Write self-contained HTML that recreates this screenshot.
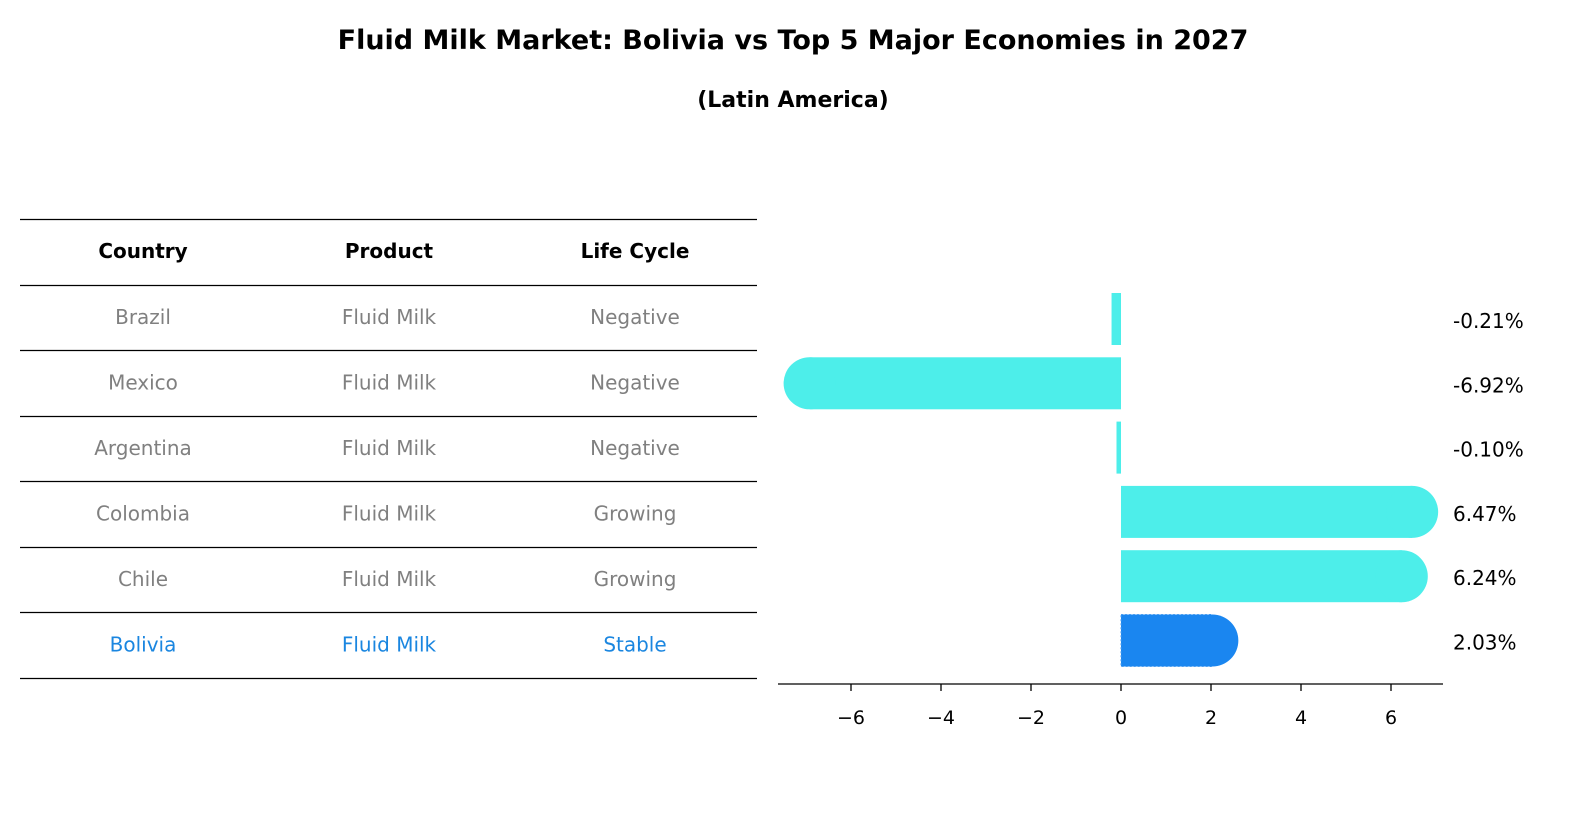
<!DOCTYPE html>
<html><head><meta charset="utf-8"><style>
html,body{margin:0;padding:0;background:#fff;overflow:hidden;width:1596px;height:823px;font-family:"Liberation Sans","DejaVu Sans",sans-serif;}
svg{display:block;}
</style></head><body>
<svg width="1596" height="823" xmlns="http://www.w3.org/2000/svg" font-family="DejaVu Sans, Liberation Sans, sans-serif">
<text x="793" y="49" text-anchor="middle" font-size="27" font-weight="bold">Fluid Milk Market: Bolivia vs Top 5 Major Economies in 2027</text>
<text x="793" y="107" text-anchor="middle" font-size="22" font-weight="bold">(Latin America)</text>
<g id="table"></g>
<g id="chart"></g>
</svg>
<script>
const countries=["Brazil","Mexico","Argentina","Colombia","Chile","Bolivia"];
const products=["Fluid Milk","Fluid Milk","Fluid Milk","Fluid Milk","Fluid Milk","Fluid Milk"];
const lifecycle=["Negative","Negative","Negative","Growing","Growing","Stable"];
const values=[-0.21,-6.92,-0.10,6.47,6.24,2.03];
const ticks=[-6,-4,-2,0,2,4,6];
const NS="http://www.w3.org/2000/svg";
function mk(tag,attrs,parent,txt){const e=document.createElementNS(NS,tag);for(const k in attrs)e.setAttribute(k,attrs[k]);if(txt!==undefined)e.textContent=txt;parent.appendChild(e);return e;}
const tbl=document.getElementById('table');
const lineYs=[219,285,350,416,481,547,612,678];
lineYs.forEach(y=>{const l=mk('line',{x1:20,x2:757,y1:y+0.5,y2:y+0.5,stroke:'#000','stroke-width':1.2},tbl);

});
const colX=[143,389,635];
["Country","Product","Life Cycle"].forEach((h,i)=>{const t=mk('text',{x:colX[i],y:258,'text-anchor':'middle','font-size':20,'font-weight':'bold'},tbl,h);

});
countries.forEach((c,r)=>{const y=324+r*65.5;const col=c==="Bolivia"?"#1a86e0":"#808080";
[c,products[r],lifecycle[r]].forEach((v,i)=>{const t=mk('text',{x:colX[i],y:y,'text-anchor':'middle','font-size':20,fill:col},tbl,v);

});});
const ch=document.getElementById('chart');
const x=v=>1121+v*45;
const rowY=i=>319+i*64.3;
const bh=52,rad=26;
values.forEach((v,i)=>{const cy=rowY(i);const isB=countries[i]==="Bolivia";const fill=isB?"#1a86f0":"#4deeea";
const x0=Math.min(x(0),x(v)),w=Math.abs(x(v)-x(0));
const g=mk('g',{},ch);


mk('rect',{x:x0,y:cy-bh/2,width:w,height:bh,fill:fill,stroke:isB?"#4d9ff0":"none",'stroke-dasharray':isB?"2,2":"none"},g);
if(w>rad){mk('circle',{cx:x(v),cy:cy,r:rad,fill:fill},g);}
const t=mk('text',{x:1453,y:cy+9,'font-size':20},ch,v.toFixed(2)+"%");

});
const ax=mk('line',{x1:778,x2:1443,y1:684,y2:684,stroke:'#000','stroke-width':1.3},ch);


ticks.forEach(t=>{mk('line',{x1:x(t),x2:x(t),y1:684,y2:691,stroke:'#000','stroke-width':1.3},ch);
const l=mk('text',{x:x(t),y:724,'text-anchor':'middle','font-size':19},ch,t<0?"\u2212"+Math.abs(t):String(t));

});
</script>
</body></html>
